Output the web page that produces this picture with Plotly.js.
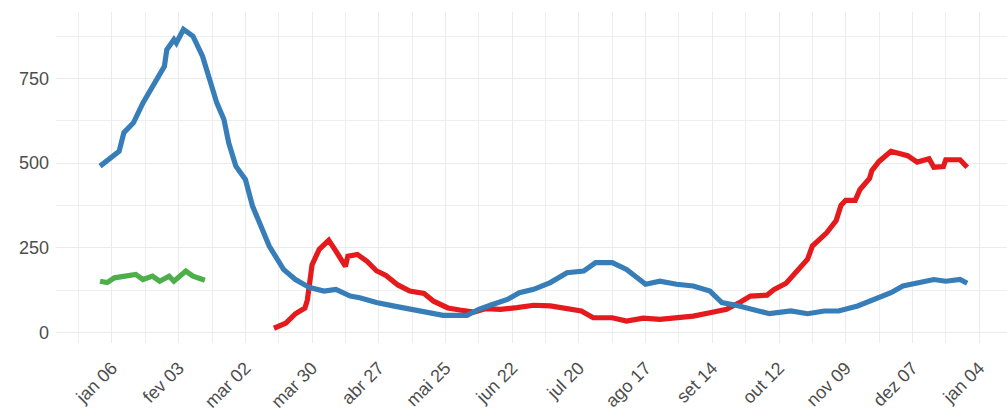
<!DOCTYPE html>
<html>
<head>
<meta charset="utf-8">
<script src="https://cdn.plot.ly/plotly-3.0.1.min.js"></script>
<style>html,body{margin:0;padding:0;background:#fff;}#chart{width:1007px;height:411px;}</style>
</head>
<body>
<div id="chart"></div>
<script>
// Blue series
var blueDates = ["2020-01-01","2020-01-06","2020-01-09","2020-01-11","2020-01-15","2020-01-19","2020-01-23","2020-01-28","2020-01-29","2020-02-01","2020-02-02","2020-02-05","2020-02-09","2020-02-13","2020-02-16","2020-02-19","2020-02-22","2020-02-24","2020-02-27","2020-03-02","2020-03-05","2020-03-09","2020-03-12","2020-03-18","2020-03-23","2020-03-29","2020-04-04","2020-04-09","2020-04-15","2020-04-19","2020-04-26","2020-05-03","2020-05-10","2020-05-17","2020-05-24","2020-06-03","2020-06-08","2020-06-14","2020-06-20","2020-06-25","2020-07-01","2020-07-08","2020-07-15","2020-07-22","2020-07-27","2020-08-03","2020-08-09","2020-08-17","2020-08-23","2020-08-30","2020-09-06","2020-09-13","2020-09-18","2020-09-24","2020-10-01","2020-10-08","2020-10-17","2020-10-24","2020-10-31","2020-11-06","2020-11-14","2020-11-21","2020-11-28","2020-12-03","2020-12-10","2020-12-16","2020-12-21","2020-12-27","2020-12-30"];
var blueValues = [491,520,535,590,619,678,727,786,835,865,855,895,875,816,747,678,629,560,491,452,373,304,255,186,156,132,122,127,107,102,88,78,68,58,50,50,68,83,97,117,127,147,176,181,206,206,186,142,151,142,137,122,88,80,68,55,63,55,63,63,78,97,117,137,147,156,151,156,145];

// Red series
var redDates = ["2020-03-14","2020-03-19","2020-03-23","2020-03-27","2020-03-28","2020-03-30","2020-04-02","2020-04-06","2020-04-09","2020-04-13","2020-04-14","2020-04-18","2020-04-22","2020-04-26","2020-04-30","2020-05-05","2020-05-10","2020-05-16","2020-05-20","2020-05-26","2020-05-31","2020-06-06","2020-06-11","2020-06-17","2020-06-24","2020-07-01","2020-07-08","2020-07-15","2020-07-21","2020-07-26","2020-08-03","2020-08-09","2020-08-16","2020-08-23","2020-08-30","2020-09-06","2020-09-13","2020-09-20","2020-09-26","2020-09-30","2020-10-07","2020-10-10","2020-10-15","2020-10-19","2020-10-24","2020-10-26","2020-11-01","2020-11-05","2020-11-07","2020-11-09","2020-11-13","2020-11-15","2020-11-19","2020-11-20","2020-11-23","2020-11-28","2020-12-05","2020-12-09","2020-12-14","2020-12-16","2020-12-20","2020-12-21","2020-12-27","2020-12-30"];
var redValues = [12,27,55,72,95,200,245,272,240,195,225,230,210,182,168,140,122,115,92,72,66,60,70,68,73,80,78,68,63,43,43,33,42,38,43,48,58,68,90,107,110,127,145,178,216,255,294,330,375,390,390,422,455,478,505,535,522,503,513,488,490,510,510,488];

// Green series
var greenDates = ["2020-01-01","2020-01-04","2020-01-07","2020-01-11","2020-01-16","2020-01-19","2020-01-23","2020-01-26","2020-01-30","2020-02-01","2020-02-06","2020-02-09","2020-02-14"];
var greenValues = [151,147,161,166,171,156,166,151,166,151,181,166,154];

// Axis ticks
var xTickVals = ["2020-01-06","2020-02-03","2020-03-02","2020-03-30","2020-04-27","2020-05-25","2020-06-22","2020-07-20","2020-08-17","2020-09-14","2020-10-12","2020-11-09","2020-12-07","2021-01-04"];
var xTickText = ["jan 06","fev 03","mar 02","mar 30","abr 27","mai 25","jun 22","jul 20","ago 17","set 14","out 12","nov 09","dez 07","jan 04"];
var yTickVals = [0,250,500,750];
var yTickText = ["0","250","500","750"];

var lineW = 5.2;
var traces = [
  {x: redDates, y: redValues, type: "scatter", mode: "lines", line: {color: "#E41A1C", width: lineW}, hoverinfo: "skip"},
  {x: greenDates, y: greenValues, type: "scatter", mode: "lines", line: {color: "#4DAF4A", width: lineW}, hoverinfo: "skip"},
  {x: blueDates, y: blueValues, type: "scatter", mode: "lines", line: {color: "#377EB8", width: lineW}, hoverinfo: "skip"}
];

var tickFont = {family: "Liberation Sans, Arial, sans-serif", size: 18, color: "#4d4d4d"};
var layout = {
  width: 1007, height: 411,
  margin: {l: 56, r: 0, t: 12, b: 68},
  paper_bgcolor: "#ffffff", plot_bgcolor: "#ffffff",
  showlegend: false,
  xaxis: {
    type: "date",
    range: ["2019-12-13 12:00", "2021-01-15 17:00"],
    tickmode: "array", tickvals: xTickVals, ticktext: xTickText,
    tickangle: -45, tickfont: tickFont,
    showgrid: true, gridcolor: "#ebebeb", gridwidth: 1,
    zeroline: false, showline: false, ticks: "",
    ticklabelstandoff: 10,
    minor: {tickmode: "linear", tick0: "2019-12-23", dtick: 28*24*3600*1000, showgrid: true, gridcolor: "#eeeeee", gridwidth: 1, ticks: ""}
  },
  yaxis: {
    range: [-31.6, 946.6],
    tickmode: "array", tickvals: yTickVals, ticktext: yTickText,
    tickfont: tickFont,
    showgrid: true, gridcolor: "#ebebeb", gridwidth: 1,
    zeroline: false, showline: false, ticks: "",
    ticklabelstandoff: 6,
    minor: {tickmode: "linear", tick0: 125, dtick: 250, showgrid: true, gridcolor: "#eeeeee", gridwidth: 1, ticks: ""}
  }
};

Plotly.newPlot("chart", traces, layout, {displayModeBar: false, staticPlot: true});
</script>
</body>
</html>
